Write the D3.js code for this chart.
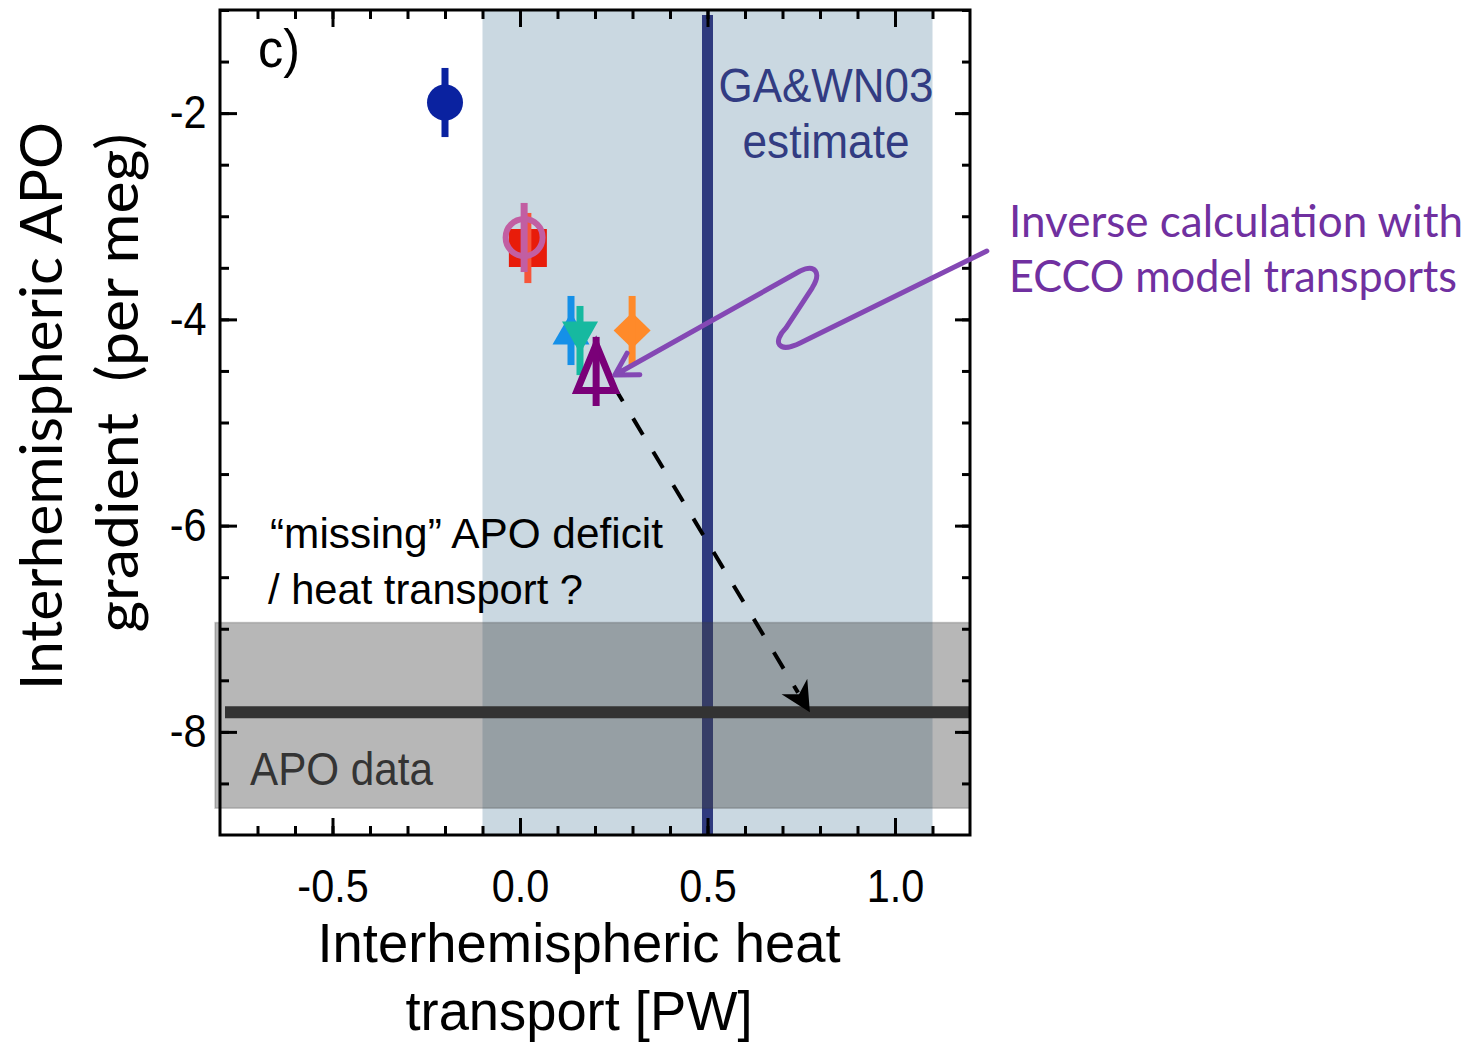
<!DOCTYPE html>
<html>
<head>
<meta charset="utf-8">
<script src="https://cdn.jsdelivr.net/npm/d3@7"></script>
<style>
  html, body { margin: 0; padding: 0; background: #fff; }
  svg { display: block; }
  .sans { font-family: "Liberation Sans", Arial, sans-serif; }
  .calibri { font-family: Lato, "Open Sans", sans-serif; }
</style>
</head>
<body>
<svg id="chart" width="1483" height="1044"></svg>
<script>
// model points: heat transport [PW] vs interhemispheric APO gradient [per meg]
const heatTransport = [-0.2, 0.021, 0.011, 0.136, 0.16, 0.299, 0.203];
const apoGradient = [-1.897, -3.308, -3.206, -4.108, -4.205, -4.108, -4.505];
const apoError = [0.335, 0.34, 0.335, 0.335, 0.335, 0.335, 0.335];

// GA&WN03 heat transport estimate and its range
const gaEstimate = 0.5;
const gaRange = [-0.1, 1.1];

// observed APO gradient and its band
const apoObserved = -7.81;
const apoBand = [-8.74, -6.94];

// dashed arrow: ECCO inverse point -> APO data
const deficitFrom = [0.248, -4.636];
const deficitTo = [0.773, apoObserved];

const xMajor = [-0.5, 0.0, 0.5, 1.0];
const xMinor = d3.range(-7, 12).map((i) => i / 10);
const yMajor = [-2, -4, -6, -8];
const yMinor = d3.range(-17, -1).map((i) => i / 2);

// marker look per point (same order as the arrays above)
const markerStyle = [
  { shape: "dot", fill: "#0a22a0", bar: "#0a22a0" },
  { shape: "square", fill: "#e81c0a", bar: "#f6553a" },
  { shape: "ring", fill: "#c25ea2", bar: "#c25ea2" },
  { shape: "up", fill: "#1590e8", bar: "#1590e8" },
  { shape: "down", fill: "#16b9a0", bar: "#16b9a0" },
  { shape: "diamond", fill: "#ff8a2a", bar: "#ff8a2a" },
  { shape: "openUp", fill: "#7a0078", bar: "#7a0078" },
];

const svg = d3.select("#chart");
const plotLeft = 220, plotRight = 970, plotTop = 10, plotBottom = 835;

const x = d3.scaleLinear().domain([-0.8, 1.2]).range([plotLeft, plotRight]);
const y = d3.scaleLinear().domain([-9, -1]).range([plotBottom, plotTop]);

// light band for the GA&WN03 range
svg.append("rect")
  .attr("x", x(gaRange[0]))
  .attr("y", plotTop)
  .attr("width", x(gaRange[1]) - x(gaRange[0]))
  .attr("height", plotBottom - plotTop)
  .attr("fill", "#cad8e1");

// GA&WN03 estimate line
svg.append("line")
  .attr("x1", x(gaEstimate)).attr("x2", x(gaEstimate))
  .attr("y1", plotTop + 5).attr("y2", plotBottom)
  .attr("stroke", "#2f3a7e")
  .attr("stroke-width", 11);

svg.append("g")
  .attr("class", "sans")
  .attr("fill", "#323c82")
  .attr("font-size", 48)
  .attr("text-anchor", "middle")
  .selectAll("text")
  .data([["GA&WN03", 102, 215], ["estimate", 158, 167]])
  .join("text")
  .attr("x", 826)
  .attr("y", (d) => d[1])
  .attr("textLength", (d) => d[2])
  .attr("lengthAdjust", "spacingAndGlyphs")
  .text((d) => d[0]);

svg.append("g")
  .attr("class", "sans")
  .attr("fill", "#000")
  .attr("font-size", 43)
  .selectAll("text")
  .data([["\u201cmissing\u201d APO deficit", 270, 548, 393], ["/ heat transport ?", 268, 604, 315]])
  .join("text")
  .attr("x", (d) => d[1])
  .attr("y", (d) => d[2])
  .attr("textLength", (d) => d[3])
  .attr("lengthAdjust", "spacingAndGlyphs")
  .text((d) => d[0]);

svg.append("text")
  .attr("class", "sans")
  .attr("x", 250).attr("y", 785)
  .attr("font-size", 47)
  .attr("fill", "#2c2c2c")
  .attr("textLength", 183)
  .attr("lengthAdjust", "spacingAndGlyphs")
  .text("APO data");

// APO data band, drawn translucent over the blue band
svg.append("rect")
  .attr("x", plotLeft - 5)
  .attr("y", y(apoBand[1]))
  .attr("width", plotRight - plotLeft + 5)
  .attr("height", y(apoBand[0]) - y(apoBand[1]))
  .attr("fill", "rgba(67,67,67,0.38)")
  .attr("stroke", "rgba(60,60,60,0.25)")
  .attr("stroke-width", 1.5);

svg.append("line")
  .attr("x1", plotLeft + 5).attr("x2", plotRight)
  .attr("y1", y(apoObserved)).attr("y2", y(apoObserved))
  .attr("stroke", "#333")
  .attr("stroke-width", 12);

// dashed arrow to the APO data
const ax0 = x(deficitFrom[0]), ay0 = y(deficitFrom[1]);
const ax1 = x(deficitTo[0]), ay1 = y(deficitTo[1]);
const ang = Math.atan2(ay1 - ay0, ax1 - ax0) * 180 / Math.PI;
svg.append("line")
  .attr("x1", ax0).attr("y1", ay0)
  .attr("x2", ax1 - (ax1 - ax0) * 0.06).attr("y2", ay1 - (ay1 - ay0) * 0.06)
  .attr("stroke", "#000")
  .attr("stroke-width", 4)
  .attr("stroke-dasharray", "19 20");
svg.append("path")
  .attr("d", "M0,0 L-30,15 L-21,0 L-30,-15 Z")
  .attr("transform", `translate(${ax1},${ay1}) rotate(${ang})`)
  .attr("fill", "#000");

// frame and inward ticks
svg.append("rect")
  .attr("x", plotLeft).attr("y", plotTop)
  .attr("width", plotRight - plotLeft).attr("height", plotBottom - plotTop)
  .attr("fill", "none")
  .attr("stroke", "#000")
  .attr("stroke-width", 3);

function tickAxis(axis, size, values, labels) {
  return axis.tickValues(values).tickSize(-size)
    .tickFormat(labels ? d3.format(labels) : "");
}

// tick labels: tall narrow digits like the reference
function styleAxis(g) {
  g.select(".domain").remove();
  g.selectAll(".tick line").attr("stroke", "#000").attr("stroke-width", 3);
  g.selectAll(".tick text")
    .attr("class", "sans")
    .attr("font-size", 46)
    .attr("fill", "#000")
    .attr("transform", "scale(0.9,1)");
}

svg.append("g").attr("transform", `translate(0,${plotBottom})`)
  .call(tickAxis(d3.axisBottom(x), 9, xMinor)).call(styleAxis);
svg.append("g").attr("transform", `translate(0,${plotBottom})`)
  .call(tickAxis(d3.axisBottom(x), 17, xMajor, ".1f").tickPadding(34)).call(styleAxis);
svg.append("g").attr("transform", `translate(0,${plotTop})`)
  .call(tickAxis(d3.axisTop(x), 9, xMinor)).call(styleAxis);
svg.append("g").attr("transform", `translate(0,${plotTop})`)
  .call(tickAxis(d3.axisTop(x), 17, xMajor)).call(styleAxis);

svg.append("g").attr("transform", `translate(${plotLeft},0)`)
  .call(tickAxis(d3.axisLeft(y), 9, yMinor)).call(styleAxis);
svg.append("g").attr("transform", `translate(${plotLeft},0)`)
  .call(tickAxis(d3.axisLeft(y), 17, yMajor, "d").tickPadding(15)).call(styleAxis);
svg.append("g").attr("transform", `translate(${plotRight},0)`)
  .call(tickAxis(d3.axisRight(y), 8, yMinor)).call(styleAxis);
svg.append("g").attr("transform", `translate(${plotRight},0)`)
  .call(tickAxis(d3.axisRight(y), 15, yMajor)).call(styleAxis);

// minus signs in the reference are plain hyphens
svg.selectAll(".tick text").text(function () {
  return d3.select(this).text().replace("\u2212", "-");
});

svg.append("text")
  .attr("class", "sans")
  .attr("x", 258).attr("y", 67)
  .attr("font-size", 54)
  .attr("textLength", 42)
  .attr("lengthAdjust", "spacingAndGlyphs")
  .text("c)");

// model markers with error bars
function markerPath(shape) {
  switch (shape) {
    case "square": return "M-19,-19H19V19H-19Z";
    case "up": return "M0,-18L18.5,14H-18.5Z";
    case "down": return "M-18,-19H18L0,13Z";
    case "diamond": return "M0,-18L18.5,0L0,18L-18.5,0Z";
    case "openUp": return "M0,-27L19,19H-19Z";
    default: return null;
  }
}

const points = heatTransport.map((hx, i) => ({
  x: hx, y: apoGradient[i], err: apoError[i], style: markerStyle[i],
}));

const pt = svg.append("g")
  .selectAll("g")
  .data(points)
  .join("g")
  .attr("transform", (d) => `translate(${x(d.x)},${y(d.y)})`);

pt.each(function (d) {
  const g = d3.select(this);
  const s = d.style;
  if (s.shape === "dot") {
    g.append("circle").attr("r", 18).attr("fill", s.fill);
  } else if (s.shape === "ring") {
    g.append("circle").attr("r", 18.5).attr("fill", "none")
      .attr("stroke", s.fill).attr("stroke-width", 6);
  } else if (s.shape === "openUp") {
    g.append("path").attr("d", markerPath(s.shape)).attr("fill", "none")
      .attr("stroke", s.fill).attr("stroke-width", 7)
      .attr("stroke-linejoin", "miter");
  } else {
    g.append("path").attr("d", markerPath(s.shape)).attr("fill", s.fill);
  }
  const h = y(d.y - d.err) - y(d.y);
  g.append("rect")
    .attr("x", -3.5).attr("y", -h)
    .attr("width", 7).attr("height", 2 * h)
    .attr("fill", s.bar);
});

// ECCO annotation with the squiggly arrow
const squiggle = [
  [1.245, -3.337],
  [0.747, -4.229],
  [0.688, -4.336], [0.672, -4.219], [0.709, -4.084],
  [0.779, -3.696],
  [0.805, -3.541], [0.787, -3.463], [0.747, -3.531],
  [0.253, -4.539],
];
const sq = squiggle.map((p) => [x(p[0]), y(p[1])]);
const sp = d3.path();
sp.moveTo(...sq[0]);
sp.lineTo(...sq[1]);
sp.bezierCurveTo(...sq[2], ...sq[3], ...sq[4]);
sp.lineTo(...sq[5]);
sp.bezierCurveTo(...sq[6], ...sq[7], ...sq[8]);
sp.lineTo(...sq[9]);
const tip = sq[9], prev = sq[8];
const back = Math.atan2(prev[1] - tip[1], prev[0] - tip[0]);
[-0.55, 0.5].forEach((da) => {
  sp.moveTo(tip[0] + 25 * Math.cos(back + da), tip[1] + 25 * Math.sin(back + da));
  sp.lineTo(tip[0], tip[1]);
});
svg.append("path")
  .attr("d", sp.toString())
  .attr("fill", "none")
  .attr("stroke", "#8448b4")
  .attr("stroke-width", 5)
  .attr("stroke-linecap", "round")
  .attr("stroke-linejoin", "round");

svg.append("g")
  .attr("class", "calibri")
  .attr("fill", "#7030a0")
  .attr("font-size", 44)
  .selectAll("text")
  .data([["Inverse calculation with", 237, 454], ["ECCO model transports", 292, 448]])
  .join("text")
  .attr("x", 1009)
  .attr("y", (d) => d[1])
  .attr("textLength", (d) => d[2])
  .attr("lengthAdjust", "spacingAndGlyphs")
  .text((d) => d[0]);

// axis titles
svg.append("g")
  .attr("class", "sans")
  .attr("font-size", 56)
  .attr("text-anchor", "middle")
  .selectAll("text")
  .data([["Interhemispheric heat", 962, 523], ["transport [PW]", 1030, 347]])
  .join("text")
  .attr("x", 579)
  .attr("y", (d) => d[1])
  .attr("textLength", (d) => d[2])
  .attr("lengthAdjust", "spacingAndGlyphs")
  .text((d) => d[0]);

svg.append("g")
  .attr("class", "calibri")
  .attr("font-size", 58)
  .attr("text-anchor", "middle")
  .selectAll("text")
  .data([["Interhemispheric APO", 62, 406, 568], ["gradient  (per meg)", 138, 383, 499]])
  .join("text")
  .attr("transform", (d) => `translate(${d[1]},${d[2]}) rotate(-90)`)
  .attr("textLength", (d) => d[3])
  .attr("lengthAdjust", "spacingAndGlyphs")
  .attr("xml:space", "preserve")
  .text((d) => d[0]);
</script>
</body>
</html>
